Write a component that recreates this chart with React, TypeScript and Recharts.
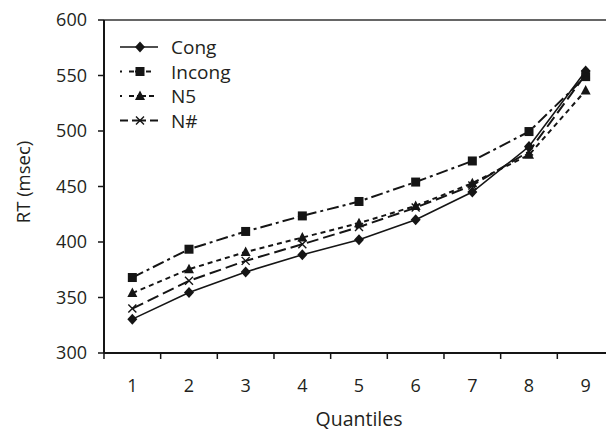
import React from 'react';
import { LineChart, Line, XAxis, YAxis, ReferenceLine, Legend } from 'recharts';

const quantiles = [1, 2, 3, 4, 5, 6, 7, 8, 9];
const cong = [330.5, 354.5, 373, 388.5, 402, 420, 445, 486, 554];
const incong = [368, 393.5, 409.5, 423.5, 436.5, 454, 473, 499.5, 549];
const n5 = [354, 375.5, 391, 404, 417, 432.5, 453, 478.5, 536.5];
const nHash = [340, 365, 383, 398, 413.5, 431, 451, 481.5, 551];
const yTicks = [300, 350, 400, 450, 500, 550, 600];

const data = quantiles.map((q, i) => ({ q, cong: cong[i], incong: incong[i], n5: n5[i], nh: nHash[i] }));

const FONT = '"Open Sans", "Noto Sans", sans-serif';
const INK = '#151515';
const TEXT = '#231f20';

const Diamond = ({ cx, cy }: any) =>
  cx == null ? null : <path d={`M${cx},${cy - 5.5}L${cx + 5},${cy}L${cx},${cy + 5.5}L${cx - 5},${cy}Z`} fill={INK} />;
const Square = ({ cx, cy }: any) =>
  cx == null ? null : <rect x={cx - 4.5} y={cy - 4.5} width={9} height={9} fill={INK} />;
const Triangle = ({ cx, cy }: any) =>
  cx == null ? null : <path d={`M${cx},${cy - 5.5}L${cx + 5},${cy + 4}L${cx - 5},${cy + 4}Z`} fill={INK} />;
const Cross = ({ cx, cy }: any) =>
  cx == null ? null : (
    <path d={`M${cx - 4},${cy - 4}L${cx + 4},${cy + 4}M${cx - 4},${cy + 4}L${cx + 4},${cy - 4}`} stroke={INK} strokeWidth={1.4} fill="none" />
  );

const series = [
  { key: 'cong', name: 'Cong', dash: undefined as string | undefined, legendDash: undefined as string | undefined, width: 1.6, Marker: Diamond },
  { key: 'incong', name: 'Incong', dash: '12 4 3 4', legendDash: '2 7 5 1 9 2 5 30', width: 2, Marker: Square },
  { key: 'n5', name: 'N5', dash: '5 4', legendDash: '2 7 5 3 9 3 5 30', width: 2, Marker: Triangle },
  { key: 'nh', name: 'N#', dash: '12 5', legendDash: '8 4 14 4 8 30', width: 2, Marker: Cross },
];

const XTick = ({ x, y, payload }: any) => (
  <g>
    <line x1={x - 28.35} x2={x - 28.35} y1={y} y2={y + 6} stroke={INK} strokeWidth={1.5} />
    <text x={x} y={y + 32} textAnchor="middle" dominantBaseline="central" fill={TEXT} fontSize={18} fontFamily={FONT}>
      {payload.value}
    </text>
  </g>
);

const LegendContent = () => (
  <svg width={200} height={110}>
    {series.map((s, i) => {
      const y = 17 + i * 24.5;
      const M = s.Marker;
      return (
        <g key={s.key}>
          <line x1={10} x2={48} y1={y} y2={y} stroke={INK} strokeWidth={s.width} strokeDasharray={s.legendDash} />
          <M cx={30} cy={y} />
          <text x={61} y={y} dominantBaseline="central" fill={TEXT} fontSize={19} fontFamily={FONT}>
            {s.name}
          </text>
        </g>
      );
    })}
  </svg>
);

export default function App() {
  return (
    <div style={{ position: 'absolute', left: 0, top: 0, width: 606, height: 432, overflow: 'hidden', background: '#fff' }}>
      <LineChart width={620} height={432} data={data} margin={{ top: 20, right: 6, left: 0, bottom: 9 }}>
        <XAxis
          type="number"
          dataKey="q"
          domain={[0.5, 9.5]}
          ticks={quantiles}
          interval={0}
          tickLine={false}
          tickSize={0}
          tickMargin={0}
          height={70}
          axisLine={{ stroke: INK, strokeWidth: 2 }}
          tick={<XTick />}
          label={{
            content: ({ viewBox }: any) => (
              <text
                x={viewBox.x + viewBox.width / 2}
                y={viewBox.y + 65}
                textAnchor="middle"
                dominantBaseline="central"
                fill={TEXT}
                fontSize={19.5}
                fontFamily={FONT}
              >
                Quantiles
              </text>
            ),
          }}
        />
        <YAxis
          type="number"
          domain={[300, 600]}
          ticks={yTicks}
          interval={0}
          width={104}
          tickSize={6}
          tickMargin={11}
          axisLine={{ stroke: INK, strokeWidth: 2 }}
          tickLine={{ stroke: INK, strokeWidth: 1.5 }}
          tick={{ fill: TEXT, fontSize: 18, fontFamily: FONT }}
          label={{
            content: () => (
              <text
                x={22}
                y={182}
                transform="rotate(-90, 22, 182)"
                textAnchor="middle"
                dominantBaseline="central"
                fill={TEXT}
                fontSize={18.5}
                fontFamily={FONT}
              >
                RT (msec)
              </text>
            ),
          }}
        />
        <ReferenceLine y={600} stroke="#666" strokeWidth={2} />
        {series.map((s) => (
          <Line
            key={s.key}
            type="linear"
            dataKey={s.key}
            name={s.name}
            stroke={INK}
            strokeWidth={s.width}
            strokeDasharray={s.dash}
            dot={<s.Marker />}
            activeDot={false}
            isAnimationActive={false}
          />
        ))}
        <Legend
          layout="vertical"
          align="center"
          verticalAlign="middle"
          content={<LegendContent />}
          wrapperStyle={{ left: 110, top: 30, width: 200, height: 110 }}
        />
      </LineChart>
    </div>
  );
}
